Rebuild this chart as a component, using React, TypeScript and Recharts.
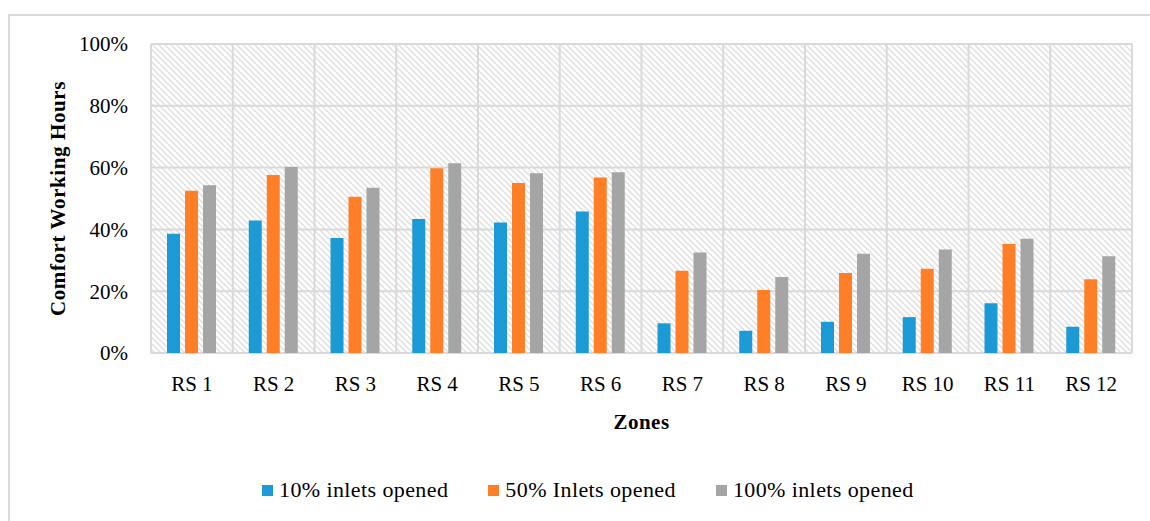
import { BarChart, Bar, XAxis, YAxis, CartesianGrid, Legend, Label } from 'recharts'

const zones = ['RS 1', 'RS 2', 'RS 3', 'RS 4', 'RS 5', 'RS 6', 'RS 7', 'RS 8', 'RS 9', 'RS 10', 'RS 11', 'RS 12']
const inlets10 = [38.6, 42.9, 37.2, 43.4, 42.2, 45.8, 9.6, 7.2, 10.1, 11.6, 16.1, 8.5]
const inlets50 = [52.5, 57.6, 50.6, 59.8, 55.0, 56.8, 26.6, 20.4, 25.9, 27.3, 35.3, 23.9]
const inlets100 = [54.3, 60.2, 53.5, 61.4, 58.2, 58.5, 32.5, 24.6, 32.1, 33.5, 37.0, 31.3]
const yTicks = [0, 20, 40, 60, 80, 100]
const seriesNames = ['10% inlets opened', '50% Inlets opened', '100% inlets opened']
const seriesColors = ['#1b9ad6', '#fe7f27', '#a5a5a5']

const FONT = "'Liberation Serif', 'Times New Roman', serif"
const GRID = '#d9d9d9'

const data = zones.map((zone, i) => ({ zone, a: inlets10[i], b: inlets50[i], c: inlets100[i] }))

function LegendBox({ payload }: any) {
  // keep the series order, recharts sorts legend items by name otherwise
  const items = [...(payload || [])].sort((p: any, q: any) => seriesNames.indexOf(p.value) - seriesNames.indexOf(q.value))
  return (
    <div style={{ display: 'flex', alignItems: 'center', gap: 40, fontFamily: FONT, fontSize: 22, letterSpacing: 0.4, lineHeight: '24px', color: '#000' }}>
      {items.map((p: any) => (
        <div key={p.value} style={{ display: 'flex', alignItems: 'center', whiteSpace: 'nowrap' }}>
          <span style={{ display: 'inline-block', width: 11, height: 11, background: p.color, marginRight: 6 }} />
          <span>{p.value}</span>
        </div>
      ))}
    </div>
  )
}

function YTitle({ viewBox }: any) {
  const cx = viewBox.x - 23
  const cy = viewBox.y + viewBox.height / 2
  return (
    <text x={cx} y={cy} transform={`rotate(-90, ${cx}, ${cy})`} textAnchor="middle" dominantBaseline="central"
      fontFamily={FONT} fontSize={21} fontWeight="bold" letterSpacing={0.6} fill="#000">
      Comfort Working Hours
    </text>
  )
}

export default function App() {
  return (
    <div style={{ position: 'absolute', left: 0, top: 0, width: 1150, height: 521, overflow: 'hidden', background: '#fff' }}>
      <svg width={0} height={0} style={{ position: 'absolute' }}>
        <defs>
          <pattern id="hatch" patternUnits="userSpaceOnUse" width={6} height={6}>
            <rect width={6} height={6} fill="#fff" />
            <path d="M0,0 L6,6 M-2,4 L2,8 M4,-2 L8,2" stroke="#dedede" strokeWidth={1.3} />
          </pattern>
        </defs>
      </svg>
      {/* outer chart frame, cropped on the right and bottom like the source */}
      <div style={{ position: 'absolute', left: 8, top: 14, width: 1160, height: 520, border: `2px solid ${GRID}`, boxSizing: 'border-box' }} />
      <div style={{ position: 'absolute', left: 0, top: 0 }}>
        <BarChart width={1150} height={521} data={data} margin={{ top: 44, right: 18, bottom: 78, left: 81 }} barGap={5}>
          <CartesianGrid stroke={GRID} strokeWidth={2} fill="url(#hatch)" fillOpacity={1}
            verticalCoordinatesGenerator={({ offset }: any) => zones.concat('').map((_, i) => offset.left + (i * offset.width) / zones.length)} />
          <XAxis dataKey="zone" height={90} tickLine={false} axisLine={false} tickSize={0} tickMargin={23} interval={0}
            tick={{ fill: '#000', fontSize: 21, fontFamily: FONT }}>
            <Label value="Zones" position="insideBottom" offset={14} fill="#000" fontSize={21} fontWeight="bold" fontFamily={FONT} letterSpacing={0.5} />
          </XAxis>
          <YAxis width={70} domain={[0, 100]} ticks={yTicks} tickFormatter={v => `${v}%`} tickLine={false} axisLine={false}
            tickSize={0} tickMargin={23} tick={{ fill: '#000', fontSize: 21, fontFamily: FONT }}>
            <Label content={YTitle} />
          </YAxis>
          <Legend layout="horizontal" verticalAlign="middle" align="center" wrapperStyle={{ left: 262, top: 478, width: 720 }} content={LegendBox} />
          <Bar dataKey="a" name={seriesNames[0]} fill={seriesColors[0]} barSize={13} isAnimationActive={false} />
          <Bar dataKey="b" name={seriesNames[1]} fill={seriesColors[1]} barSize={13} isAnimationActive={false} />
          <Bar dataKey="c" name={seriesNames[2]} fill={seriesColors[2]} barSize={13} isAnimationActive={false} />
        </BarChart>
      </div>
    </div>
  )
}
